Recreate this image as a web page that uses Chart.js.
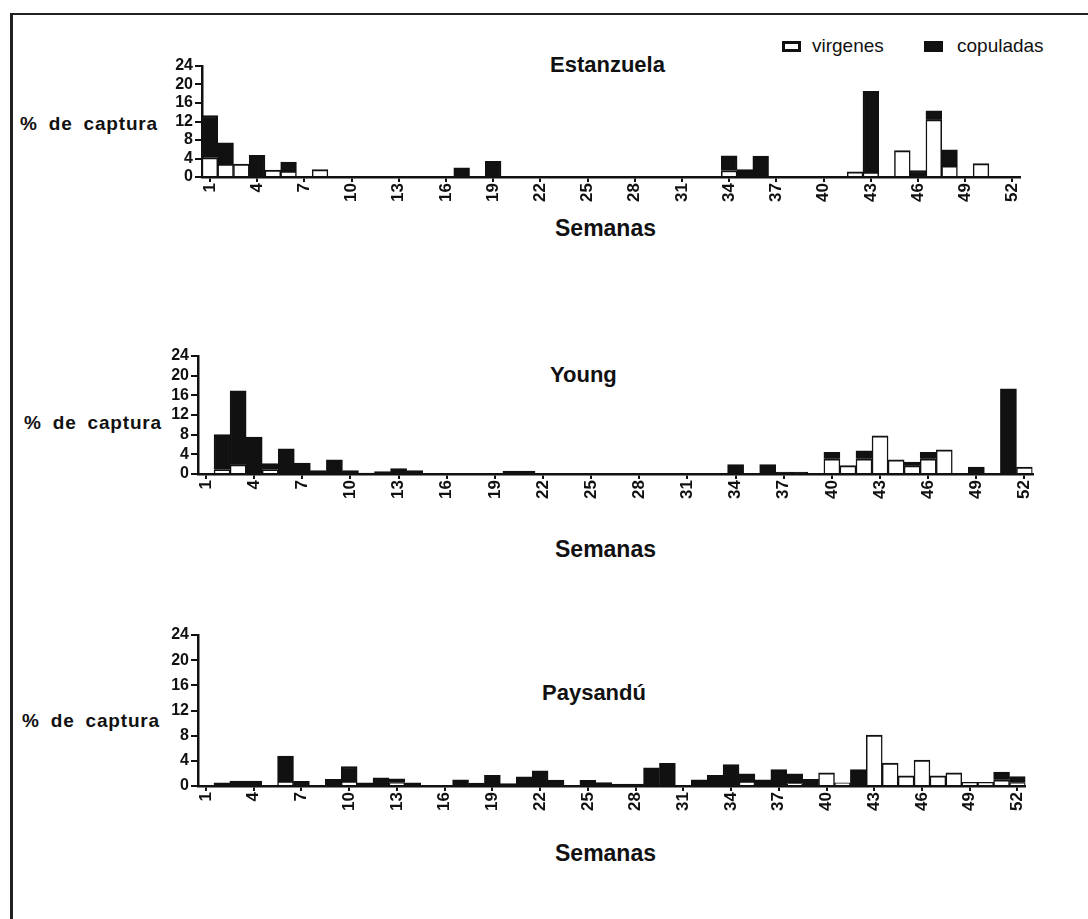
<!DOCTYPE html>
<html>
<head>
<meta charset="utf-8">
<script src="https://cdn.jsdelivr.net/npm/chart.js@4.4.0/dist/chart.umd.min.js"></script>
<style>
body { margin: 0; background: #fff; }
#page { position: relative; width: 1088px; height: 919px; overflow: hidden; font-family: "Liberation Sans", Arial, sans-serif; color: #111; }
#frame { position: absolute; left: 10px; top: 13px; width: 1100px; height: 930px; border-top: 2px solid #222; border-left: 3px solid #222; }
.txt { position: absolute; white-space: nowrap; line-height: 1; }
.titulo { font-size: 22px; font-weight: bold; }
.sem { font-size: 23px; font-weight: bold; }
.ylab { font-size: 19px; font-weight: bold; word-spacing: 5px; letter-spacing: 0.8px; }
.ley { font-size: 19px; }
.caja { position: absolute; width: 19px; height: 11px; box-sizing: border-box; border: 3px solid #111; background: #fff; }
.panel { position: absolute; }
</style>
</head>
<body>
<div id="page">
  <div id="frame"></div>

  <div class="caja" style="left:782px; top:41px;"></div>
  <div class="txt ley" style="left:812px; top:36px;">virgenes</div>
  <div class="caja" style="left:924px; top:41px; background:#111;"></div>
  <div class="txt ley" style="left:957px; top:36px;">copuladas</div>

  <div class="txt titulo" style="left:550px; top:54px;">Estanzuela</div>
  <div class="txt ylab" style="left:20px; top:114px;">% de captura</div>
  <div class="txt sem" style="left:555px; top:217px;">Semanas</div>

  <div class="txt titulo" style="left:550px; top:364px;">Young</div>
  <div class="txt ylab" style="left:24px; top:413px;">% de captura</div>
  <div class="txt sem" style="left:555px; top:538px;">Semanas</div>

  <div class="txt titulo" style="left:542px; top:682px;">Paysandú</div>
  <div class="txt ylab" style="left:22px; top:711px;">% de captura</div>
  <div class="txt sem" style="left:555px; top:842px;">Semanas</div>

  <div class="panel" id="p1"><canvas id="c1"></canvas></div>
  <div class="panel" id="p2"><canvas id="c2"></canvas></div>
  <div class="panel" id="p3"><canvas id="c3"></canvas></div>
</div>

<script>
// semanas del año (categorías) y las que llevan rótulo
var semanas = ['1','2','3','4','5','6','7','8','9','10','11','12','13','14','15','16','17','18','19','20',
  '21','22','23','24','25','26','27','28','29','30','31','32','33','34','35','36','37','38','39','40',
  '41','42','43','44','45','46','47','48','49','50','51','52'];
var rotuladas = ['1','4','7','10','13','16','19','22','25','28','31','34','37','40','43','46','49','52'];
var ticksY = [0, 4, 8, 12, 16, 20, 24];

// Estanzuela
var estVirgenes = [4.2, 2.8, 2.8, 0, 1.5, 1.3, 0, 1.6, 0, 0,
  0, 0, 0, 0, 0, 0, 0, 0, 0, 0,
  0, 0, 0, 0, 0, 0, 0, 0, 0, 0,
  0, 0, 0, 1.4, 0, 0, 0, 0, 0, 0,
  0, 1.1, 1.0, 0, 5.7, 0, 12.4, 2.4, 0, 2.9,
  0, 0];
var estCopuladas = [9.1, 4.6, 0, 4.7, 0, 1.9, 0, 0, 0, 0,
  0, 0, 0, 0, 0, 0, 2.0, 0, 3.4, 0,
  0, 0, 0, 0, 0, 0, 0, 0, 0, 0,
  0, 0, 0, 3.2, 1.6, 4.5, 0, 0, 0, 0,
  0, 0, 17.5, 0, 0, 1.4, 1.9, 3.5, 0, 0,
  0, 0];

// Young
var youVirgenes = [0, 0.9, 1.9, 0, 0.9, 0, 0, 0, 0, 0,
  0, 0, 0, 0, 0, 0, 0, 0, 0, 0,
  0, 0, 0, 0, 0, 0, 0, 0, 0, 0,
  0, 0, 0, 0, 0, 0, 0, 0, 0, 3.1,
  1.7, 3.1, 7.75, 2.9, 1.7, 3.1, 4.9, 0, 0, 0,
  0, 1.4];
var youCopuladas = [0, 7.1, 15.0, 7.5, 1.2, 5.1, 2.2, 0.7, 2.9, 0.7,
  0.2, 0.5, 1.1, 0.7, 0, 0, 0, 0, 0, 0.6,
  0.6, 0, 0, 0, 0, 0, 0, 0, 0, 0,
  0, 0, 0, 1.9, 0, 1.9, 0.4, 0.4, 0, 1.3,
  0, 1.6, 0, 0, 0.7, 1.3, 0, 0, 1.4, 0,
  17.3, 0];

// Paysandú
var payVirgenes = [0, 0, 0, 0, 0, 0.75, 0, 0, 0, 0.8,
  0, 0, 0.5, 0, 0, 0, 0, 0, 0, 0,
  0, 0, 0, 0, 0, 0, 0, 0, 0, 0,
  0, 0, 0, 0, 0.75, 0, 0, 0.4, 0, 2.1,
  0.5, 0, 8.1, 3.65, 1.6, 4.1, 1.6, 2.1, 0.6, 0.6,
  1.0, 0.5];
var payCopuladas = [0, 0.5, 0.8, 0.8, 0, 4.0, 0.75, 0, 1.05, 2.3,
  0.5, 1.3, 0.65, 0.5, 0, 0, 1.0, 0.45, 1.7, 0.4,
  1.45, 2.4, 0.95, 0, 0.9, 0.55, 0.3, 0.3, 2.9, 3.6,
  0, 1.0, 1.7, 3.4, 1.2, 1.0, 2.6, 1.55, 1.05, 0,
  0, 2.6, 0, 0, 0, 0, 0, 0, 0, 0,
  1.2, 1.0];

var FUENTE = '"Liberation Sans", Arial, sans-serif';
var NEGRO = '#111';
var EJE_Y = 60;   // ancho reservado para el eje y
var EJE_X = 40;   // alto reservado para el eje x
var PAD_T = 10;
var PAD_R = 12;

function sinCeros(v) {
    return v === 0 ? null : v;
}

function crearPanel(idDiv, idCanvas, area, virgenes, copuladas) {
    var div = document.getElementById(idDiv);
    div.style.left = (area.l - EJE_Y) + 'px';
    div.style.top = (area.t - PAD_T) + 'px';
    div.style.width = (area.r - area.l + EJE_Y + PAD_R) + 'px';
    div.style.height = (area.b - area.t + PAD_T + EJE_X) + 'px';

    var borde = { top: 2, left: 1.5, right: 1.5, bottom: 0 };
    var ctx = document.getElementById(idCanvas).getContext('2d');
    return new Chart(ctx, {
        type: 'bar',
        data: {
            labels: semanas,
            datasets: [{
                label: 'virgenes',
                data: virgenes.map(sinCeros),
                backgroundColor: '#fff',
                borderColor: NEGRO,
                borderWidth: borde,
                borderSkipped: false,
                barPercentage: 1,
                categoryPercentage: 1
            }, {
                label: 'copuladas',
                data: copuladas.map(sinCeros),
                backgroundColor: NEGRO,
                borderColor: NEGRO,
                borderWidth: borde,
                borderSkipped: false,
                barPercentage: 1,
                categoryPercentage: 1
            }]
        },
        options: {
            responsive: true,
            maintainAspectRatio: false,
            animation: false,
            devicePixelRatio: 1,
            layout: { padding: { top: PAD_T, right: PAD_R, left: 0, bottom: 0 } },
            plugins: { legend: { display: false }, tooltip: { enabled: false } },
            scales: {
                x: {
                    stacked: true,
                    offset: true,
                    grid: {
                        offset: false,
                        drawOnChartArea: false,
                        drawTicks: true,
                        tickLength: 5,
                        lineWidth: 2,
                        color: function (c) {
                            return rotuladas.indexOf(semanas[c.index]) >= 0 ? NEGRO : 'rgba(0,0,0,0)';
                        }
                    },
                    border: { display: true, color: NEGRO, width: 2.5 },
                    ticks: {
                        autoSkip: false,
                        minRotation: 90,
                        maxRotation: 90,
                        padding: 1,
                        color: NEGRO,
                        font: { family: FUENTE, size: 17, weight: 'bold' },
                        callback: function (val, i) {
                            return rotuladas.indexOf(semanas[i]) >= 0 ? semanas[i] : '';
                        }
                    },
                    afterFit: function (s) { s.height = EJE_X; }
                },
                y: {
                    stacked: true,
                    min: ticksY[0],
                    max: ticksY[ticksY.length - 1],
                    grid: {
                        drawOnChartArea: false,
                        drawTicks: true,
                        tickLength: 7,
                        lineWidth: 2,
                        color: NEGRO
                    },
                    border: { display: true, color: NEGRO, width: 2.5 },
                    afterBuildTicks: function (s) {
                        s.ticks = ticksY.map(function (v) { return { value: v }; });
                    },
                    ticks: {
                        autoSkip: false,
                        padding: 2,
                        color: NEGRO,
                        font: { family: FUENTE, size: 16, weight: 'bold', lineHeight: 1 }
                    },
                    afterFit: function (s) { s.width = EJE_Y; }
                }
            }
        }
    });
}

var chartEst = crearPanel('p1', 'c1', { l: 202, r: 1022, t: 66, b: 177 }, estVirgenes, estCopuladas);
var chartYou = crearPanel('p2', 'c2', { l: 198, r: 1034, t: 356, b: 474 }, youVirgenes, youCopuladas);
var chartPay = crearPanel('p3', 'c3', { l: 198, r: 1027, t: 635, b: 786 }, payVirgenes, payCopuladas);
</script>
</body>
</html>
